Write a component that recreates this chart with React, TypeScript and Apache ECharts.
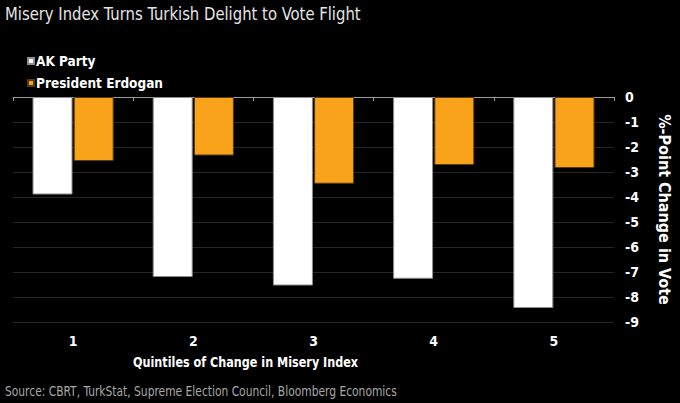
import React, { useEffect, useRef } from "react";
import * as echarts from "echarts";

const categories = ["1", "2", "3", "4", "5"];
const akParty = [-3.9, -7.2, -7.54, -7.27, -8.44];
const erdogan = [-2.56, -2.34, -3.47, -2.72, -2.84];
const seriesNames = ["AK Party", "President Erdogan"];
const titleText = "Misery Index Turns Turkish Delight to Vote Flight";
const sourceText = "Source: CBRT, TurkStat, Supreme Election Council, Bloomberg Economics";
const xAxisName = "Quintiles of Change in Misery Index";
const yAxisName = "%-Point Change in Vote";

const FONT = "'DejaVu Sans Condensed', 'DejaVu Sans', sans-serif";

export default function App() {
  const ref = useRef<HTMLDivElement>(null);
  useEffect(() => {
    if (!ref.current) return;
    const chart = echarts.init(ref.current, undefined, { renderer: "svg" });
    chart.setOption({
      animation: false,
      backgroundColor: "#000000",
      textStyle: { fontFamily: FONT },
      legend: {
        orient: "vertical",
        left: 22,
        top: 49,
        itemWidth: 6,
        itemHeight: 6,
        itemGap: 8,
        icon: "rect",
        textStyle: { color: "#ffffff", fontSize: 13.5, fontWeight: "bold", fontFamily: FONT, padding: [0, 0, 0, -3] },
        data: seriesNames,
      },
      grid: { left: 13, right: 55, top: 97, bottom: 81, containLabel: false },
      xAxis: [
        {
          type: "category",
          data: categories,
          position: "bottom",
          axisLine: { show: false },
          axisTick: { show: false },
          axisLabel: { color: "#ffffff", fontSize: 14, fontWeight: "bold", margin: 12, fontFamily: FONT },
        },
        {
          type: "category",
          data: categories,
          position: "top",
          axisLine: { show: true, onZero: false, lineStyle: { color: "#9a9a9a", width: 1 } },
          axisTick: { show: true, inside: true, length: 4, lineStyle: { color: "#9a9a9a" } },
          axisLabel: { show: false },
        },
      ],
      yAxis: {
        type: "value",
        position: "right",
        min: -9,
        max: 0,
        interval: 1,
        axisLine: { show: false },
        axisTick: { show: false },
        splitLine: { show: true, lineStyle: { color: "#262626", width: 1 } },
        axisLabel: { color: "#ffffff", fontSize: 14, fontWeight: "bold", margin: 11, align: "left", fontFamily: FONT },
        name: yAxisName,
        nameLocation: "middle",
        nameRotate: -90,
        nameGap: 42,
        nameTextStyle: { color: "#ffffff", fontSize: 16, fontWeight: "bold", fontFamily: FONT },
      },
      series: [
        {
          name: seriesNames[0],
          type: "bar",
          data: akParty,
          barWidth: 40,
          barGap: "3%",
          itemStyle: { color: "#ffffff", borderColor: "#8c8c8c", borderWidth: 1 },
        },
        {
          name: seriesNames[1],
          type: "bar",
          data: erdogan,
          barWidth: 40,
          barGap: "3%",
          itemStyle: { color: "#F9A31B", borderColor: "#5a3a08", borderWidth: 1 },
        },
      ],
      graphic: [
        {
          type: "text",
          x: 5,
          y: 5,
          scaleX: 0.97,
          style: { text: titleText, fill: "#e6e6e6", fontSize: 17, fontFamily: FONT, align: "left", verticalAlign: "top" },
        },
        {
          type: "text",
          x: 133,
          y: 354,
          scaleX: 0.86,
          style: { text: xAxisName, fill: "#ffffff", fontSize: 14.5, fontWeight: "bold", fontFamily: FONT, align: "left", verticalAlign: "top" },
        },
        {
          type: "text",
          x: 5,
          y: 384,
          scaleX: 0.85,
          style: { text: sourceText, fill: "#a8a8a8", fontSize: 14, fontFamily: FONT, align: "left", verticalAlign: "top" },
        },
      ],
    });
    return () => chart.dispose();
  }, []);
  return (
    <div
      ref={ref}
      style={{ position: "fixed", left: 0, top: 0, width: 680, height: 403, background: "#000" }}
    />
  );
}
